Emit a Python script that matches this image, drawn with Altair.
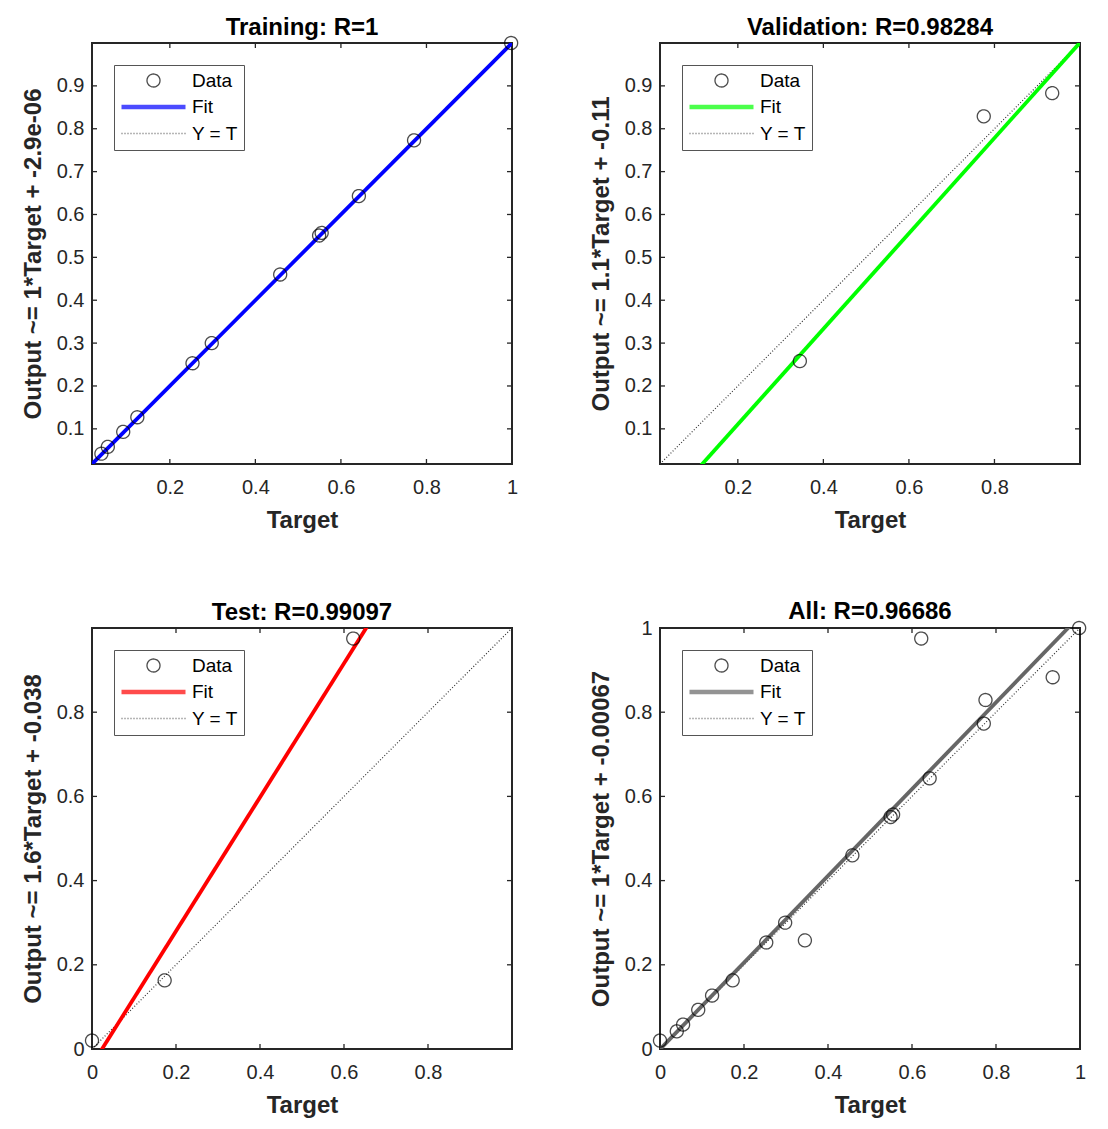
import altair as alt
import pandas as pd

# ---------------- data ----------------
series = ["Data", "Fit", "Y = T"]

train_target = [0.040, 0.055, 0.091, 0.124, 0.253, 0.298, 0.458, 0.549, 0.555, 0.642, 0.771, 0.998]
train_output = [0.042, 0.058, 0.093, 0.127, 0.253, 0.300, 0.460, 0.551, 0.557, 0.643, 0.773, 1.000]

val_target = [0.345, 0.775, 0.935]
val_output = [0.258, 0.829, 0.883]

test_target = [0.000, 0.173, 0.622]
test_output = [0.020, 0.163, 0.975]

all_target = train_target + val_target + test_target
all_output = train_output + val_output + test_output

# fit lines: (slope, intercept)
train_fit = (1.0, -2.9e-06)
val_fit = (1.113, -0.112)
test_fit = (1.59, -0.038)
all_fit = (1.03, -0.00067)

titles = ["Training: R=1", "Validation: R=0.98284", "Test: R=0.99097", "All: R=0.96686"]
ylabels = [
    "Output ~= 1*Target + -2.9e-06",
    "Output ~= 1.1*Target + -0.11",
    "Output ~= 1.6*Target + -0.038",
    "Output ~= 1*Target + -0.00067",
]
fit_colors = ["#0000FF", "#00FF00", "#FF0000", "#666666"]

dom_train = [0.018, 1.0]
dom_val = [0.018, 1.0]
dom_test = [0.0, 1.0]
dom_all = [0.0, 1.0]

xt_train = [0.2, 0.4, 0.6, 0.8, 1.0]
yt_train = [0.1, 0.2, 0.3, 0.4, 0.5, 0.6, 0.7, 0.8, 0.9]
xt_val = [0.2, 0.4, 0.6, 0.8]
yt_val = [0.1, 0.2, 0.3, 0.4, 0.5, 0.6, 0.7, 0.8, 0.9]
xt_test = [0.0, 0.2, 0.4, 0.6, 0.8]
yt_test = [0.0, 0.2, 0.4, 0.6, 0.8]
xt_all = [0.0, 0.2, 0.4, 0.6, 0.8, 1.0]
yt_all = [0.0, 0.2, 0.4, 0.6, 0.8, 1.0]

# ---------------- styling ----------------
FONT = "Liberation Sans"
AX = "#262626"
W, H = 420, 421

circle_path = "M-1.3,0A1.3,1.3,0,1,1,1.3,0A1.3,1.3,0,1,1,-1.3,0Z"
fit_path = "".join("M-6.4,%.2fH6.4" % v for v in [-0.3, -0.2, -0.1, 0.0, 0.1, 0.2, 0.3])
diag_path = "M-6.4,0H6.4"


def panel(title, tx, oy, fit, color, dom, xticks, yticks, ylab, title_offset):
    sx = alt.Scale(domain=dom, nice=False, zero=False)
    sy = alt.Scale(domain=dom, nice=False, zero=False)
    ax = alt.Axis(values=xticks, format=".1~f", ticks=False, domain=False, grid=False,
                  labelPadding=13, titlePadding=11, title="Target", labelFlush=False)
    ay = alt.Axis(values=yticks, format=".1~f", ticks=False, domain=False, grid=False,
                  labelPadding=8, titlePadding=11, title=ylab, labelFlush=False)

    leg = alt.Legend(title=None)
    pts = pd.DataFrame({"x": tx, "y": oy, "s": ["Data"] * len(tx)})
    points = alt.Chart(pts).mark_point(size=100, filled=False, strokeWidth=1.3, clip=False).encode(
        x=alt.X("x:Q", scale=sx, axis=ax),
        y=alt.Y("y:Q", scale=sy, axis=ay),
        shape=alt.Shape("s:N", scale=alt.Scale(domain=series, range=[circle_path, fit_path, diag_path]), legend=leg),
        stroke=alt.Stroke("s:N", scale=alt.Scale(domain=series, range=["#000000", color, "#333333"]), legend=leg),
        strokeDash=alt.StrokeDash("s:N", scale=alt.Scale(domain=series, range=[[1, 0], [1, 0], [1, 2]]), legend=leg),
    )

    a, b = fit
    fit_df = pd.DataFrame({"x": dom, "y": [a * v + b for v in dom]})
    fit_line = alt.Chart(fit_df).mark_line(color=color, strokeWidth=3.8, clip=True).encode(
        x=alt.X("x:Q", scale=sx, axis=ax), y=alt.Y("y:Q", scale=sy, axis=ay))

    diag_df = pd.DataFrame({"x": dom, "y": dom})
    diag = alt.Chart(diag_df).mark_line(color="#333333", strokeWidth=1.2, strokeDash=[1, 2], clip=True).encode(
        x=alt.X("x:Q", scale=sx, axis=ax), y=alt.Y("y:Q", scale=sy, axis=ay))

    tick_style = dict(color=AX, strokeWidth=1.3)
    bx = pd.DataFrame({"x": xticks, "y": [dom[0]] * len(xticks)})
    tx_ = pd.DataFrame({"x": xticks, "y": [dom[1]] * len(xticks)})
    ly = pd.DataFrame({"y": yticks, "x": [dom[0]] * len(yticks)})
    ry = pd.DataFrame({"y": yticks, "x": [dom[1]] * len(yticks)})

    bottom = alt.Chart(bx).mark_rule(y2Offset=-5, **tick_style).encode(
        x=alt.X("x:Q", scale=sx, axis=ax), y=alt.Y("y:Q", scale=sy, axis=ay), y2="y:Q")
    top = alt.Chart(tx_).mark_rule(y2Offset=5, **tick_style).encode(
        x=alt.X("x:Q", scale=sx, axis=ax), y=alt.Y("y:Q", scale=sy, axis=ay), y2="y:Q")
    left = alt.Chart(ly).mark_rule(x2Offset=5, **tick_style).encode(
        x=alt.X("x:Q", scale=sx, axis=ax), x2="x:Q", y=alt.Y("y:Q", scale=sy, axis=ay))
    right = alt.Chart(ry).mark_rule(x2Offset=-5, **tick_style).encode(
        x=alt.X("x:Q", scale=sx, axis=ax), x2="x:Q", y=alt.Y("y:Q", scale=sy, axis=ay))

    return alt.layer(bottom, top, left, right, diag, fit_line, points).properties(
        width=W, height=H, title=alt.TitleParams(text=title, offset=title_offset))


# panels whose top-right circle overflows the box need a smaller title offset
p1 = panel(titles[0], train_target, train_output, train_fit, fit_colors[0], dom_train, xt_train, yt_train, ylabels[0], -6)
p2 = panel(titles[1], val_target, val_output, val_fit, fit_colors[1], dom_val, xt_val, yt_val, ylabels[1], 2)
p3 = panel(titles[2], test_target, test_output, test_fit, fit_colors[2], dom_test, xt_test, yt_test, ylabels[2], 2)
p4 = panel(titles[3], all_target, all_output, all_fit, fit_colors[3], dom_all, xt_all, yt_all, ylabels[3], -6)

ind = dict(x="independent", y="independent", shape="independent", stroke="independent", strokeDash="independent")

chart = alt.concat(p1, p2, p3, p4, columns=2, spacing={"row": 66, "column": 66}).resolve_scale(**ind).properties(
    padding={"left": 12, "top": 6, "right": 5, "bottom": 5},
    background="white",
).configure_view(
    stroke=AX, strokeWidth=2, fill="white"
).configure_axis(
    labelFont=FONT, labelFontSize=20, labelColor=AX,
    titleFont=FONT, titleFontSize=24, titleFontWeight="bold", titleColor=AX,
).configure_title(
    font=FONT, fontSize=24, fontWeight="bold", color="#000000", anchor="middle", frame="group"
).configure_legend(
    orient="top-left", offset=22, padding=6, fillColor="white", strokeColor="#555555",
    labelFont=FONT, labelFontSize=19, labelColor="#000000",
    symbolSize=100, symbolStrokeWidth=1.3, symbolOffset=24, labelOffset=29, rowPadding=6.5,
)

chart.save("out.html", embed_options={"renderer": "svg", "actions": False})
